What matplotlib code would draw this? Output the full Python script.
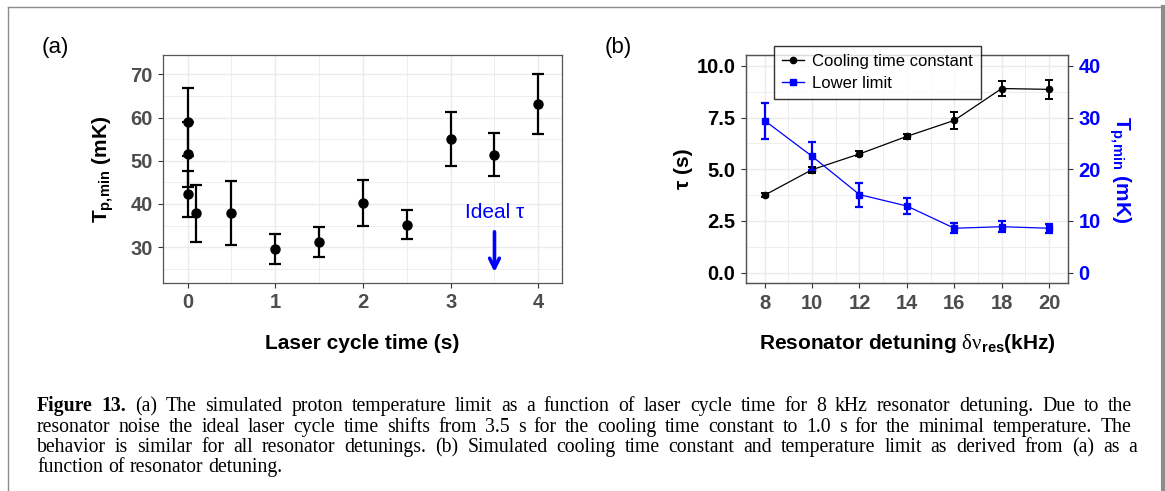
import numpy as np
import matplotlib
matplotlib.use('Agg')
import matplotlib.pyplot as plt
from matplotlib.lines import Line2D
from matplotlib.ticker import MultipleLocator

# Panel (a): temperature limit vs laser cycle time (8 kHz detuning)
a_time = [0.0, 0.01, 0.0, 0.1, 0.5, 1.0, 1.5, 2.0, 2.5, 3.0, 3.5, 4.0]
a_temp = [58.9, 51.5, 42.3, 37.8, 38.0, 29.6, 31.2, 40.2, 35.2, 55.1, 51.4, 63.2]
a_err = [7.9, 7.5, 5.3, 6.7, 7.4, 3.5, 3.4, 5.4, 3.4, 6.2, 5.0, 6.9]
ideal_tau = 3.5

# Panel (b): cooling time constant and lower limit vs resonator detuning
b_detuning = [8, 10, 12, 14, 16, 18, 20]
b_tau = [3.75, 4.98, 5.74, 6.59, 7.36, 8.90, 8.86]
b_tau_err = [0.08, 0.15, 0.12, 0.12, 0.43, 0.36, 0.45]
b_tmin = [29.4, 22.5, 15.1, 12.9, 8.6, 8.9, 8.6]
b_tmin_err = [3.5, 2.7, 2.3, 1.5, 1.0, 1.1, 0.9]

caption_lines = [
    'Figure 13.  (a) The simulated proton temperature limit as a function of laser cycle time for 8 kHz resonator detuning. Due to the',
    'resonator noise the ideal laser cycle time shifts from 3.5 s for the cooling time constant to 1.0 s for the minimal temperature. The',
    'behavior is similar for all resonator detunings. (b) Simulated cooling time constant and temperature limit as derived from (a) as a',
    'function of resonator detuning.',
]

plt.rcParams['font.family'] = 'Liberation Sans'
plt.rcParams['mathtext.fontset'] = 'custom'
plt.rcParams['mathtext.rm'] = 'Liberation Serif'
plt.rcParams['mathtext.it'] = 'Liberation Sans:italic'
plt.rcParams['mathtext.bf'] = 'Liberation Sans:bold'

W, H = 1165, 491
fig = plt.figure(figsize=(W / 100, H / 100), dpi=100)
fig.patch.set_facecolor('white')

grid_col = '#EBEBEB'
frame_col = '#555555'
tick_col = '#4D4D4D'
blue = '#0000FF'
tmin_label = r'$\mathbf{T_{p,\!min}}$ (mK)'


def style_axes(ax):
    for s in ax.spines.values():
        s.set_color(frame_col)
        s.set_linewidth(0.9)
    ax.tick_params(which='major', direction='out', length=3.5, width=0.8,
                   color='#333333', labelsize=14.5, pad=4)
    ax.tick_params(which='minor', length=0)
    ax.grid(which='major', color=grid_col, lw=1.0)
    ax.grid(which='minor', color=grid_col, lw=0.6)
    ax.set_axisbelow(True)
    for lab in ax.get_xticklabels() + ax.get_yticklabels():
        lab.set_fontweight('bold')


# ---- panel (a)
ax_a = fig.add_axes([163 / W, 1 - 283 / H, 399 / W, 228 / H])
ax_a.errorbar(a_time, a_temp, yerr=a_err, fmt='o', color='black', ms=6.5,
              elinewidth=1.6, capsize=4.5, capthick=1.6)
ax_a.set_xlim(-0.28, 4.27)
ax_a.set_ylim(21.7, 74.5)
ax_a.xaxis.set_major_locator(MultipleLocator(1))
ax_a.xaxis.set_minor_locator(MultipleLocator(0.5))
ax_a.yaxis.set_major_locator(MultipleLocator(10))
ax_a.yaxis.set_minor_locator(MultipleLocator(5))
style_axes(ax_a)
ax_a.tick_params(labelcolor=tick_col)
ax_a.set_xlabel('Laser cycle time (s)', fontsize=15, fontweight='bold',
                va='baseline')
ax_a.set_ylabel(tmin_label, fontsize=15, fontweight='bold', va='center')
ax_a.xaxis.set_label_coords(0.5, -0.289)
ax_a.yaxis.set_label_coords(-0.150, 0.5)

ax_a.annotate('', xy=(ideal_tau, 23.6), xytext=(ideal_tau, 34.2),
              arrowprops=dict(arrowstyle='->,head_width=0.35,head_length=0.7',
                              color=blue, lw=2.6))
ax_a.text(ideal_tau, 38.0, 'Ideal τ', color=blue, fontsize=15,
          ha='center', va='center')

# ---- panel (b)
ax_b = fig.add_axes([745.7 / W, 1 - 283.3 / H, 322.6 / W, 228.3 / H])
ax_b.errorbar(b_detuning, b_tau, yerr=b_tau_err, fmt='-o', color='black',
              ms=4.5, lw=0.9, elinewidth=1.4, capsize=3, capthick=1.4)
ax_b.set_xlim(7.2, 20.81)
ax_b.set_ylim(-0.51, 10.52)
ax_b.xaxis.set_major_locator(MultipleLocator(2))
ax_b.xaxis.set_minor_locator(MultipleLocator(1))
ax_b.yaxis.set_major_locator(MultipleLocator(2.5))
ax_b.yaxis.set_minor_locator(MultipleLocator(1.25))
ax_b.yaxis.set_major_formatter('{x:.1f}')
style_axes(ax_b)
ax_b.tick_params(axis='x', labelcolor=tick_col)
ax_b.tick_params(axis='y', labelcolor='black')
ax_b.set_xlabel(r'Resonator detuning $\mathrm{\delta\nu}_{\mathbf{res}}$(kHz)',
                fontsize=15, fontweight='bold', va='baseline')
ax_b.set_ylabel('τ (s)', fontsize=15, fontweight='bold', va='center')
ax_b.xaxis.set_label_coords(0.5, -0.289)
ax_b.yaxis.set_label_coords(-0.194, 0.5)

ax_t = ax_b.twinx()
ax_t.errorbar(b_detuning, b_tmin, yerr=b_tmin_err, fmt='-s', color=blue,
              ms=5, lw=0.9, elinewidth=1.6, capsize=3, capthick=1.6)
lo, hi = ax_b.get_ylim()
ax_t.set_ylim(lo * 4, hi * 4)
ax_t.yaxis.set_major_locator(MultipleLocator(10))
for s in ax_t.spines.values():
    s.set_color(frame_col)
    s.set_linewidth(0.9)
ax_t.tick_params(axis='y', direction='out', length=3.5, width=0.8,
                 color='#333333', labelsize=14.5, labelcolor=blue, pad=4)
for lab in ax_t.get_yticklabels():
    lab.set_fontweight('bold')
ax_t.set_ylabel(tmin_label, fontsize=15, fontweight='bold',
                color=blue, rotation=270, va='center')
ax_t.yaxis.set_label_coords(1.16, 0.5)

handles = [
    Line2D([], [], color='black', marker='o', ms=4.5, lw=1.0),
    Line2D([], [], color=blue, marker='s', ms=5, lw=1.0),
]
leg = fig.legend(handles, ['Cooling time constant', 'Lower limit'],
                 loc='upper left', bbox_to_anchor=(774 / W, 1 - 46 / H),
                 fontsize=12, frameon=True, fancybox=False, borderpad=0.5,
                 labelspacing=0.38, handlelength=1.3, handletextpad=0.5,
                 borderaxespad=0)
leg.get_frame().set_edgecolor('black')
leg.get_frame().set_linewidth(1.0)

# panel tags
fig.text(55 / W, 1 - 47 / H, '(a)', fontsize=16, ha='center', va='center')
fig.text(618 / W, 1 - 47 / H, '(b)', fontsize=16, ha='center', va='center')

# caption: justified lines, words placed one by one on a common baseline
serif = 'Liberation Serif'
cap_size = 14.2
cap_base = [411, 432, 452, 472]
cap_x0 = 37
cap_x1 = [1132, 1131, 1137, None]
rend = fig.canvas.get_renderer()
for line, y, x1 in zip(caption_lines, cap_base, cap_x1):
    words = line.split()
    items = []
    for i, wd in enumerate(words):
        bold = line.startswith('Figure') and i < 2
        t = fig.text(0, 1 - y / H, wd, family=serif, fontsize=cap_size,
                     fontweight='bold' if bold else 'normal', va='baseline')
        items.append((t, t.get_window_extent(rend).width))
    total = sum(w for _, w in items)
    if x1 is None:
        gap = cap_size * 100 / 72 * 0.25
    else:
        gap = (x1 - cap_x0 - total) / (len(items) - 1)
    x = cap_x0
    for t, w in items:
        t.set_x(x / W)
        x += w + gap

# page frame
frame = dict(color='#8C8C8C', transform=fig.transFigure, clip_on=False)
fig.add_artist(Line2D([8 / W, 8 / W], [0, 1 - 7 / H], lw=1.0, **frame))
fig.add_artist(Line2D([8 / W, 1161 / W], [1 - 7 / H, 1 - 7 / H], lw=1.0, **frame))
fig.add_artist(Line2D([1163 / W, 1163 / W], [0, 1 - 7 / H], lw=3.0, **frame))

fig.savefig('out.png', dpi=100)
